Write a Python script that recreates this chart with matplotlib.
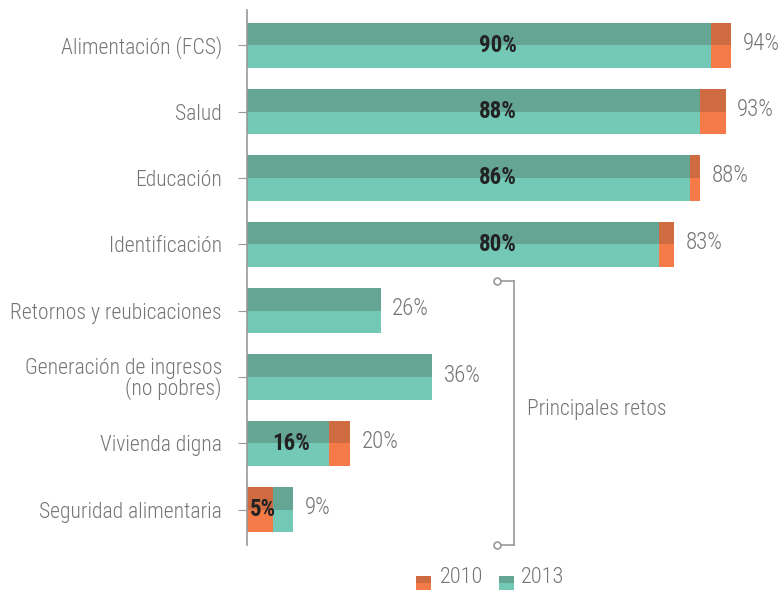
import matplotlib
matplotlib.use("Agg")
import matplotlib.pyplot as plt
from matplotlib import font_manager as fm
from matplotlib.patches import Rectangle

avail = {}
for f in fm.fontManager.ttflist:
    avail.setdefault(f.name, set()).add(f.weight)
prefs = ['Roboto Condensed', 'Open Sans Condensed', 'PT Sans Narrow', 'Archivo Narrow', 'Liberation Sans Narrow']
fam = next((p for p in prefs if p in avail), 'Liberation Sans')
plt.rcParams['font.family'] = [fam, 'DejaVu Sans']
light_w = 300 if any(w in (300, 'light') for w in avail.get(fam, [])) else 'normal'

categories = ["Alimentación (FCS)", "Salud", "Educación", "Identificación",
              "Retornos y reubicaciones", "Generación de ingresos\n(no pobres)",
              "Vivienda digna", "Seguridad alimentaria"]
v2010 = [94, 93, 88, 83, None, None, 20, 5]
v2013 = [90, 88, 86, 80, 26, 36, 16, 9]
years = ["2010", "2013"]

col = {"2010": ("#CF6B41", "#F47B47"), "2013": ("#64A593", "#74C9B6")}
gray = "#757575"

fig = plt.figure(figsize=(7.84, 5.90), dpi=100)
ax = fig.add_axes([247/784, 45/590, 1 - 247/784, 535/590])
ax.set_xlim(0, 537/5.15)
ax.set_ylim(7.53, -0.53)
h = 0.68

for i, cat in enumerate(categories):
    vals = [(v2010[i], "2010"), (v2013[i], "2013")]
    vals = [v for v in vals if v[0] is not None]
    vals.sort(key=lambda t: -t[0])
    for v, yr in vals:
        dark, light = col[yr]
        ax.barh(i - h/4, v, height=h/2, color=dark, linewidth=0)
        ax.barh(i + h/4, v, height=h/2, color=light, linewidth=0)
    big = vals[0][0]
    ax.text(big + 2.2, i - 0.03, f"{big}%", va='center', ha='left', fontsize=16.5,
            color=gray, fontweight=light_w)
    if len(vals) > 1:
        small = vals[1][0]
        x = 48.7 if small >= 50 else small / 2 + 0.6
        ax.text(x, i, f"{small}%", va='center', ha='center', fontsize=16.5,
                color="#222222", fontweight='bold')

ax.set_yticks(range(len(categories)))
ax.set_yticklabels(categories, fontsize=15.6, color=gray, linespacing=0.9,
                   fontweight=light_w)
for lab in ax.get_yticklabels():
    lab.set_y(lab.get_position()[1])
ax.tick_params(axis='y', length=6.5, color="#999999", pad=11.5)
ax.set_xticks([])
for s in ['top', 'right', 'bottom']:
    ax.spines[s].set_visible(False)
ax.spines['left'].set_color("#999999")
ax.spines['left'].set_linewidth(1.2)

# bracket
bx = 51.8
y0, y1 = 3.56, 7.53
ax.plot([bx, bx], [y0, y1], color="#999999", lw=1.2, clip_on=False)
for yy in (y0, y1):
    ax.plot([48.5, bx], [yy, yy], color="#999999", lw=1.2, clip_on=False)
    ax.plot([48.5], [yy], marker='o', ms=5, mfc='white', mec="#999999", mew=1.2, clip_on=False)
ax.text(54.4, 5.49, "Principales retos", fontsize=15.5, color=gray, va='center',
        ha='left', fontweight=light_w)

# legend
def leg_square(x, yr):
    dark, light = col[yr]
    fig.patches.append(Rectangle((x/784, 0), 15/784, 7/590, transform=fig.transFigure, color=light, lw=0))
    fig.patches.append(Rectangle((x/784, 7/590), 15/784, 7/590, transform=fig.transFigure, color=dark, lw=0))
leg_square(416, years[0])
fig.text(440/784, 2/590, years[0], fontsize=16, color=gray, va='bottom', fontweight=light_w)
leg_square(499, years[1])
fig.text(521/784, 2/590, years[1], fontsize=16, color=gray, va='bottom', fontweight=light_w)

fig.savefig("out.png", dpi=100)
